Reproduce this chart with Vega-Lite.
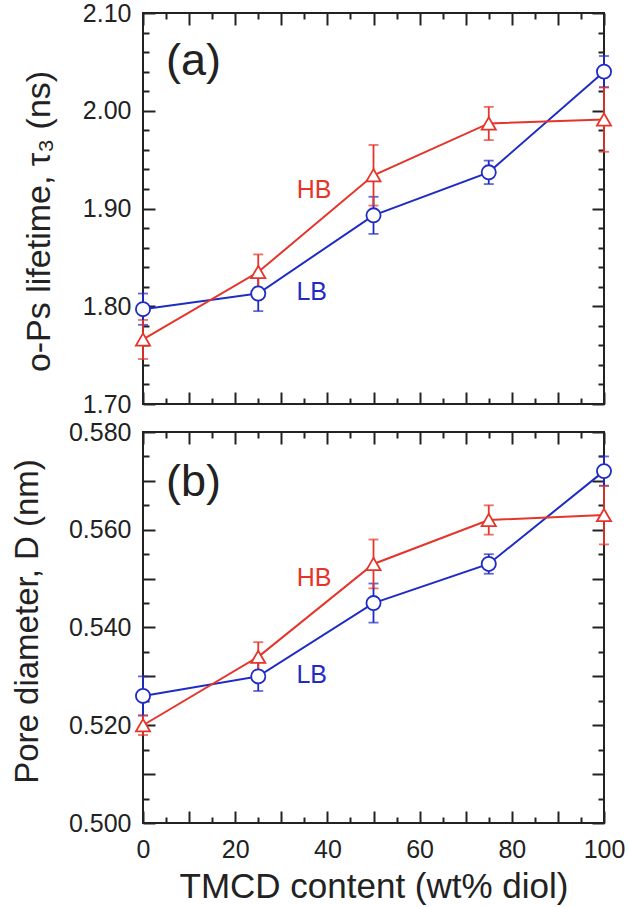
{
  "$schema": "https://vega.github.io/schema/vega-lite/v6.json",
  "padding": {"left": 10, "top": 0, "right": 5, "bottom": 0},
  "spacing": 1,
  "datasets": {
    "a": [
      {"series": "LB", "x": 0, "y": 1.797, "err": 0.016},
      {"series": "LB", "x": 25, "y": 1.813, "err": 0.018},
      {"series": "LB", "x": 50, "y": 1.893, "err": 0.019},
      {"series": "LB", "x": 75, "y": 1.937, "err": 0.012},
      {"series": "LB", "x": 100, "y": 2.040, "err": 0.016},
      {"series": "HB", "x": 0, "y": 1.766, "err": 0.020},
      {"series": "HB", "x": 25, "y": 1.835, "err": 0.018},
      {"series": "HB", "x": 50, "y": 1.934, "err": 0.031},
      {"series": "HB", "x": 75, "y": 1.987, "err": 0.017},
      {"series": "HB", "x": 100, "y": 1.991, "err": 0.033}
    ],
    "b": [
      {"series": "LB", "x": 0, "y": 0.526, "err": 0.004},
      {"series": "LB", "x": 25, "y": 0.530, "err": 0.003},
      {"series": "LB", "x": 50, "y": 0.545, "err": 0.004},
      {"series": "LB", "x": 75, "y": 0.553, "err": 0.002},
      {"series": "LB", "x": 100, "y": 0.572, "err": 0.003},
      {"series": "HB", "x": 0, "y": 0.520, "err": 0.002},
      {"series": "HB", "x": 25, "y": 0.534, "err": 0.003},
      {"series": "HB", "x": 50, "y": 0.553, "err": 0.005},
      {"series": "HB", "x": 75, "y": 0.562, "err": 0.003},
      {"series": "HB", "x": 100, "y": 0.563, "err": 0.006}
    ],
    "la": [
      {"series": "HB", "x": 37.1, "y": 1.919, "label": "HB"},
      {"series": "LB", "x": 36.6, "y": 1.815, "label": "LB"}
    ],
    "lb": [
      {"series": "HB", "x": 37.1, "y": 0.5501, "label": "HB"},
      {"series": "LB", "x": 36.6, "y": 0.5303, "label": "LB"}
    ],
    "pa": [{"x": 5, "y": 2.051, "label": "(a)"}],
    "pb": [{"x": 5, "y": 0.5698, "label": "(b)"}]
  },
  "config": {
    "font": "Liberation Sans",
    "view": {"stroke": "#222222", "strokeWidth": 2},
    "axis": {
      "grid": false,
      "domain": false,
      "tickColor": "#222222",
      "tickWidth": 2,
      "labelColor": "#222222",
      "labelFont": "Liberation Sans",
      "labelFontSize": 25,
      "titleFont": "Liberation Sans",
      "titleFontSize": 33,
      "titleFontWeight": "normal",
      "titleColor": "#222222"
    }
  },
  "vconcat": [
    {
      "width": 461,
      "height": 391,
      "resolve": {"axis": {"x": "independent", "y": "independent"}},
      "layer": [
        {
          "data": {"name": "a"},
          "mark": {"type": "errorbar", "ticks": {"size": 10, "thickness": 1.8}, "thickness": 1.8},
          "encoding": {
            "x": {"field": "x", "type": "quantitative", "axis": null},
            "y": {"field": "y", "type": "quantitative", "axis": null},
            "yError": {"field": "err"},
            "color": {"field": "series", "type": "nominal", "scale": {"domain": ["HB", "LB"], "range": ["#e5352a", "#1f2cc4"]}, "legend": null}
          }
        },
        {
          "data": {"name": "a"},
          "mark": {"type": "line", "strokeWidth": 2},
          "encoding": {
            "x": {"field": "x", "type": "quantitative", "scale": {"domain": [0, 100], "nice": false},
              "axis": {"orient": "bottom", "values": [0,10,20,30,40,50,60,70,80,90,100], "tickSize": -12, "labels": false, "title": null}},
            "y": {"field": "y", "type": "quantitative", "scale": {"domain": [1.7, 2.1], "nice": false, "zero": false},
              "axis": {"orient": "left", "values": [1.7,1.8,1.9,2.0,2.1], "format": ".2f", "tickSize": -12,
                "labelPadding": 24, "labelOverlap": false, "title": "o-Ps lifetime, τ₃ (ns)", "titleFontSize": 34, "titlePadding": 26, "titleY": 208}},
            "color": {"field": "series", "type": "nominal", "legend": null}
          }
        },
        {
          "data": {"name": "a"},
          "mark": {"type": "point", "filled": false, "fill": "white", "fillOpacity": 1, "strokeWidth": 1.8, "size": 200, "opacity": 1},
          "encoding": {
            "x": {"field": "x", "type": "quantitative",
              "axis": {"orient": "top", "values": [0,10,20,30,40,50,60,70,80,90,100], "tickSize": -12, "labels": false, "title": null}},
            "y": {"field": "y", "type": "quantitative",
              "axis": {"orient": "right", "values": [1.7,1.8,1.9,2.0,2.1], "tickSize": -12, "labels": false, "title": null}},
            "color": {"field": "series", "type": "nominal", "legend": null},
            "shape": {"field": "series", "type": "nominal", "scale": {"domain": ["HB", "LB"], "range": ["triangle-up", "circle"]}, "legend": null}
          }
        },
        {
          "data": {"name": "la"},
          "mark": {"type": "text", "fontSize": 25, "align": "center", "baseline": "middle"},
          "encoding": {
            "x": {"field": "x", "type": "quantitative",
              "axis": {"orient": "bottom", "values": [5,15,25,35,45,55,65,75,85,95], "tickSize": -6, "labels": false, "title": null}},
            "y": {"field": "y", "type": "quantitative",
              "axis": {"orient": "left", "values": [1.72,1.74,1.76,1.78,1.82,1.84,1.86,1.88,1.92,1.94,1.96,1.98,2.02,2.04,2.06,2.08], "tickSize": -6, "labels": false, "title": null}},
            "text": {"field": "label"},
            "color": {"field": "series", "type": "nominal", "legend": null}
          }
        },
        {
          "data": {"name": "pa"},
          "mark": {"type": "text", "fontSize": 45, "align": "left", "baseline": "middle", "color": "#222222"},
          "encoding": {
            "x": {"field": "x", "type": "quantitative",
              "axis": {"orient": "top", "values": [5,15,25,35,45,55,65,75,85,95], "tickSize": -6, "labels": false, "title": null}},
            "y": {"field": "y", "type": "quantitative",
              "axis": {"orient": "right", "values": [1.72,1.74,1.76,1.78,1.82,1.84,1.86,1.88,1.92,1.94,1.96,1.98,2.02,2.04,2.06,2.08], "tickSize": -6, "labels": false, "title": null}},
            "text": {"field": "label"}
          }
        }
      ]
    },
    {
      "width": 461,
      "height": 391,
      "resolve": {"axis": {"x": "independent", "y": "independent"}},
      "layer": [
        {
          "data": {"name": "b"},
          "mark": {"type": "errorbar", "ticks": {"size": 10, "thickness": 1.8}, "thickness": 1.8},
          "encoding": {
            "x": {"field": "x", "type": "quantitative", "axis": null},
            "y": {"field": "y", "type": "quantitative", "axis": null},
            "yError": {"field": "err"},
            "color": {"field": "series", "type": "nominal", "scale": {"domain": ["HB", "LB"], "range": ["#e5352a", "#1f2cc4"]}, "legend": null}
          }
        },
        {
          "data": {"name": "b"},
          "mark": {"type": "line", "strokeWidth": 2},
          "encoding": {
            "x": {"field": "x", "type": "quantitative", "scale": {"domain": [0, 100], "nice": false},
              "axis": {"orient": "bottom", "values": [0,10,20,30,40,50,60,70,80,90,100], "tickSize": -12,
                "labelExpr": "datum.value % 20 === 0 ? datum.label : ''", "labelPadding": 26, "labelFlush": false, "labelOverlap": false,
                "title": "TMCD content (wt% diol)", "titleFontSize": 35, "titlePadding": 7}},
            "y": {"field": "y", "type": "quantitative", "scale": {"domain": [0.5, 0.58], "nice": false, "zero": false},
              "axis": {"orient": "left", "values": [0.50,0.51,0.52,0.53,0.54,0.55,0.56,0.57,0.58], "tickSize": -12,
                "labelExpr": "abs(datum.value*50 - round(datum.value*50)) < 0.000001 ? format(datum.value, '.3f') : ''",
                "labelPadding": 24, "labelOverlap": false, "title": "Pore diameter, D (nm)", "titlePadding": 24, "titleY": 189}},
            "color": {"field": "series", "type": "nominal", "legend": null}
          }
        },
        {
          "data": {"name": "b"},
          "mark": {"type": "point", "filled": false, "fill": "white", "fillOpacity": 1, "strokeWidth": 1.8, "size": 200, "opacity": 1},
          "encoding": {
            "x": {"field": "x", "type": "quantitative",
              "axis": {"orient": "top", "values": [0,10,20,30,40,50,60,70,80,90,100], "tickSize": -12, "labels": false, "title": null}},
            "y": {"field": "y", "type": "quantitative",
              "axis": {"orient": "right", "values": [0.50,0.51,0.52,0.53,0.54,0.55,0.56,0.57,0.58], "tickSize": -12, "labels": false, "title": null}},
            "color": {"field": "series", "type": "nominal", "legend": null},
            "shape": {"field": "series", "type": "nominal", "scale": {"domain": ["HB", "LB"], "range": ["triangle-up", "circle"]}, "legend": null}
          }
        },
        {
          "data": {"name": "lb"},
          "mark": {"type": "text", "fontSize": 25, "align": "center", "baseline": "middle"},
          "encoding": {
            "x": {"field": "x", "type": "quantitative",
              "axis": {"orient": "bottom", "values": [5,15,25,35,45,55,65,75,85,95], "tickSize": -6, "labels": false, "title": null}},
            "y": {"field": "y", "type": "quantitative",
              "axis": {"orient": "left", "values": [0.505,0.515,0.525,0.535,0.545,0.555,0.565,0.575], "tickSize": -6, "labels": false, "title": null}},
            "text": {"field": "label"},
            "color": {"field": "series", "type": "nominal", "legend": null}
          }
        },
        {
          "data": {"name": "pb"},
          "mark": {"type": "text", "fontSize": 45, "align": "left", "baseline": "middle", "color": "#222222"},
          "encoding": {
            "x": {"field": "x", "type": "quantitative",
              "axis": {"orient": "top", "values": [5,15,25,35,45,55,65,75,85,95], "tickSize": -6, "labels": false, "title": null}},
            "y": {"field": "y", "type": "quantitative",
              "axis": {"orient": "right", "values": [0.505,0.515,0.525,0.535,0.545,0.555,0.565,0.575], "tickSize": -6, "labels": false, "title": null}},
            "text": {"field": "label"}
          }
        }
      ]
    }
  ]
}
